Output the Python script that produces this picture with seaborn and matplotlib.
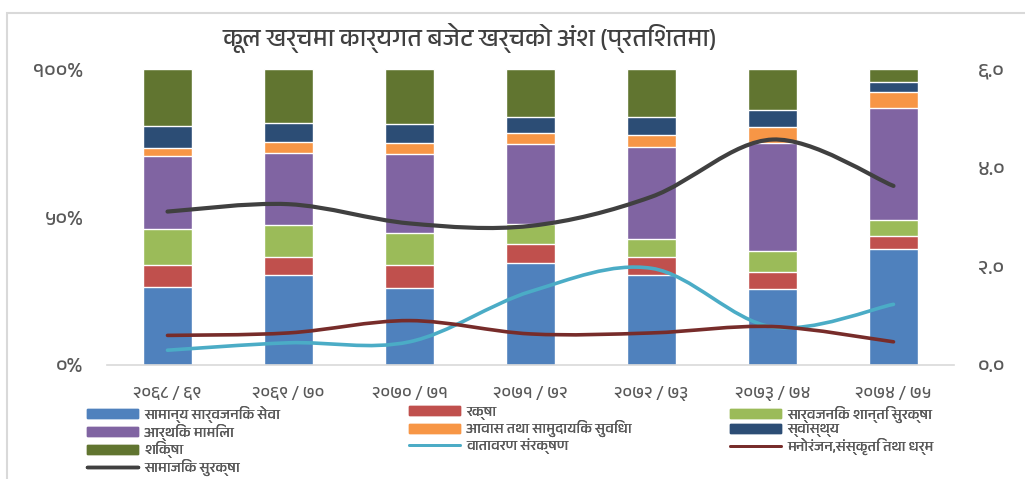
import numpy as np
import pandas as pd
import matplotlib
matplotlib.use("Agg")
import matplotlib.pyplot as plt
from matplotlib import font_manager
from matplotlib.path import Path
from matplotlib.patches import PathPatch, Patch, Rectangle
from matplotlib.lines import Line2D
from fontTools.ttLib import TTFont
import seaborn as sns

# ==================================================
# DATA
# ==================================================

years = ["२०६८ / ६९", "२०६९ / ७०", "२०७० / ७१", "२०७१ / ७२",
         "२०७२ / ७३", "२०७३ / ७४", "२०७४ / ७५"]

# bar shares (percent of total expenditure)
general_services = [26.5, 30.4, 26.1, 34.4, 30.4, 25.6, 39.1]
defence = [7.3, 6.0, 7.7, 6.4, 6.1, 5.7, 4.6]
public_order = [12.0, 10.8, 10.8, 6.8, 6.0, 7.2, 5.3]
economic_affairs = [24.7, 24.5, 26.7, 27.2, 31.0, 36.4, 37.9]
housing = [2.9, 3.6, 3.6, 3.5, 4.3, 5.6, 5.2]
health = [7.5, 6.5, 6.5, 5.6, 6.1, 5.5, 3.5]
education = [19.1, 18.2, 18.6, 16.1, 16.1, 14.0, 4.4]

# line series (right axis)
environment = [0.30, 0.45, 0.47, 1.49, 1.96, 0.77, 1.23]
recreation = [0.60, 0.65, 0.90, 0.63, 0.65, 0.78, 0.47]
social_security = [3.11, 3.26, 2.87, 2.82, 3.41, 4.57, 3.63]

bar_labels = ["सामान्य सार्वजनिक सेवा", "रक्षा", "सार्वजनिक शान्ति सुरक्षा",
              "आर्थिक मामिला", "आवास तथा सामुदायिक सुविधा", "स्वास्थ्य", "शिक्षा"]
line_labels = ["वातावरण संरक्षण", "मनोरंजन,संस्कृति तथा धर्म", "सामाजिक सुरक्षा"]

left_ticks = ["०%", "५०%", "१००%"]
right_ticks = ["०.०", "२.०", "४.०", "६.०"]

title = "कूल खर्चमा कार्यगत बजेट खर्चको अंश (प्रतिशतमा)"

# ==================================================
# SETTINGS
# ==================================================

sns.set_style("white")


def find_devanagari_font():
    found = []
    for f in font_manager.fontManager.ttflist:
        try:
            cmap = TTFont(f.fname, fontNumber=0, lazy=True).getBestCmap()
        except Exception:
            continue
        if cmap and 0x0915 in cmap:
            found.append(f.name)
    for name in found:
        if "Devanagari" in name:
            return name
    return found[0] if found else "DejaVu Sans"


deva = find_devanagari_font()
plt.rcParams["font.family"] = [deva, "DejaVu Sans"]

bar_colors = ["#4F81BD", "#C0504D", "#9BBB59", "#8064A2",
              "#F79646", "#2C4D75", "#617530"]
line_colors = ["#4BACC6", "#772C2A", "#404040"]
text_grey = "#595959"

# ==================================================
# FIGURE
# ==================================================

W, H = 1025, 479
fig = plt.figure(figsize=(W / 100, H / 100), dpi=100)
ax = fig.add_axes([107 / W, 1 - 365 / H, 847 / W, 296 / H])

shares = pd.DataFrame(
    dict(zip(bar_labels, [general_services, defence, public_order,
                          economic_affairs, housing, health, education])),
    index=years,
)
shares = shares.div(shares.sum(axis=1), axis=0)
cum = shares.cumsum(axis=1)

# stacked bars: draw cumulative tops from the highest layer down
for name, color in reversed(list(zip(bar_labels, bar_colors))):
    sns.barplot(
        x=years, y=cum[name].values,
        color=color, saturation=1, width=0.4,
        errorbar=None, ax=ax
    )

ax.set_xlim(-0.5, len(years) - 0.5)
ax.set_ylim(0, 1)
ax.set_yticks([0, 0.5, 1])
ax.set_yticklabels(left_ticks)
ax.tick_params(axis="y", length=0, pad=17, labelsize=15, labelcolor=text_grey)
ax.tick_params(axis="x", length=0, pad=15, labelsize=12.5, labelcolor=text_grey)
ax.set_xlabel("")
ax.set_ylabel("")
for side in ["left", "right", "top"]:
    ax.spines[side].set_visible(False)
ax.spines["bottom"].set_color("#D9D9D9")
ax.spines["bottom"].set_linewidth(1.2)

# ==================================================
# SMOOTH LINES (right axis)
# ==================================================

ax2 = ax.twinx()
ax2.set_ylim(0, 6)
ax2.set_yticks([0, 2, 4, 6])
ax2.set_yticklabels(right_ticks)
ax2.tick_params(axis="y", length=0, pad=17, labelsize=15, labelcolor=text_grey)
for side in ["left", "right", "top", "bottom"]:
    ax2.spines[side].set_visible(False)


def smooth_path(xs, ys):
    pts = np.column_stack([xs, ys]).astype(float)
    ext = np.vstack([pts[0], pts, pts[-1]])
    verts = [pts[0]]
    codes = [Path.MOVETO]
    for i in range(len(pts) - 1):
        p0, p1, p2, p3 = ext[i], ext[i + 1], ext[i + 2], ext[i + 3]
        verts += [p1 + (p2 - p0) / 6, p2 - (p3 - p1) / 6, p2]
        codes += [Path.CURVE4] * 3
    return Path(verts, codes)


x_pos = np.arange(len(years))
line_widths = [2.6, 2.6, 3.0]
for vals, color, lw in zip([environment, recreation, social_security],
                           line_colors, line_widths):
    ax2.add_patch(PathPatch(smooth_path(x_pos, vals), fill=False,
                            edgecolor=color, lw=lw, capstyle="round"))

# ==================================================
# TITLE / FRAME
# ==================================================

fig.text(470 / W, 1 - 38 / H, title, ha="center", va="center",
         fontsize=18, fontweight="bold", color="#404040")

fig.patches.append(Rectangle((7 / W, -0.1), 1.2, 1 - 13 / H + 0.1,
                             transform=fig.transFigure, fill=False,
                             edgecolor="#D9D9D9", lw=1.5))

# ==================================================
# LEGEND (three fixed columns)
# ==================================================

bar_h = [Patch(facecolor=c, edgecolor=c) for c in bar_colors]
line_h = [Line2D([], [], color=c, lw=lw) for c, lw in zip(line_colors, [2, 2, 2.5])]

columns = [
    ([bar_h[0], bar_h[3], bar_h[6], line_h[2]],
     [bar_labels[0], bar_labels[3], bar_labels[6], line_labels[2]], 87),
    ([bar_h[1], bar_h[4], line_h[0]],
     [bar_labels[1], bar_labels[4], line_labels[0]], 409),
    ([bar_h[2], bar_h[5], line_h[1]],
     [bar_labels[2], bar_labels[5], line_labels[1]], 730),
]

for handles, labels, x0 in columns:
    leg = fig.legend(
        handles, labels,
        loc="upper left", bbox_to_anchor=(x0 / W, 1 - 406 / H),
        frameon=False, fontsize=10.5, labelcolor=text_grey,
        handlelength=3.5, handleheight=0.55, handletextpad=0.4,
        labelspacing=0.05, borderpad=0, borderaxespad=0
    )
    fig.add_artist(leg)

plt.savefig("out.png", dpi=100)
plt.close()
